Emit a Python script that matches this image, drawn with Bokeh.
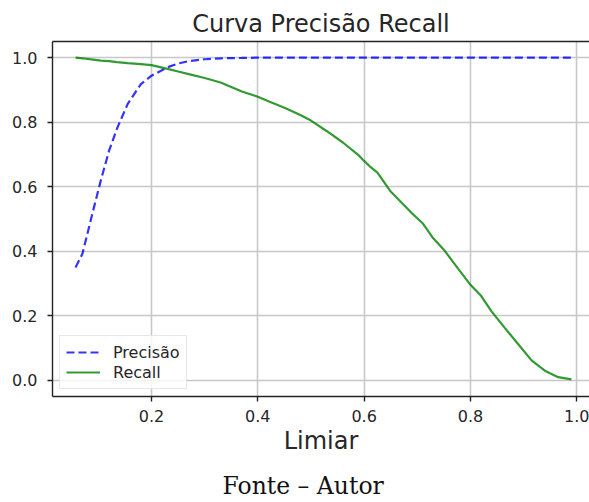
from bokeh.plotting import figure
from bokeh.models import Range1d, LinearAxis, Title, Legend, LegendItem, FixedTicker, NumeralTickFormatter
from bokeh.embed import file_html
from bokeh.resources import INLINE

# Data
threshold = [0.057, 0.07, 0.09, 0.105, 0.12, 0.135, 0.155, 0.18, 0.20, 0.23,
             0.25, 0.27, 0.30, 0.33, 0.37, 0.40, 0.42, 0.45, 0.48, 0.50,
             0.53, 0.56, 0.59, 0.60, 0.61, 0.625, 0.65, 0.69, 0.71, 0.73,
             0.75, 0.775, 0.80, 0.82, 0.84, 0.865, 0.89, 0.915, 0.94, 0.965, 0.99]
precision = [0.350, 0.392, 0.525, 0.622, 0.711, 0.780, 0.856, 0.918, 0.944, 0.970,
             0.982, 0.989, 0.995, 0.998, 0.999, 1.0, 1.0, 1.0, 1.0, 1.0,
             1.0, 1.0, 1.0, 1.0, 1.0, 1.0, 1.0, 1.0, 1.0, 1.0,
             1.0, 1.0, 1.0, 1.0, 1.0, 1.0, 1.0, 1.0, 1.0, 1.0, 1.0]
recall = [1.0, 0.998, 0.994, 0.991, 0.989, 0.986, 0.983, 0.980, 0.977, 0.965,
          0.957, 0.949, 0.937, 0.923, 0.895, 0.879, 0.865, 0.845, 0.822, 0.805,
          0.772, 0.737, 0.697, 0.680, 0.664, 0.644, 0.585, 0.518, 0.487, 0.440,
          0.405, 0.350, 0.296, 0.262, 0.213, 0.162, 0.112, 0.062, 0.030, 0.010, 0.003]
x_ticks = [0.2, 0.4, 0.6, 0.8, 1.0]
y_ticks = [0.0, 0.2, 0.4, 0.6, 0.8, 1.0]

FONT = "DejaVu Sans"
TXT = "#262626"

p = figure(width=589, height=511, output_backend="svg", toolbar_location=None,
           x_range=Range1d(0.0137, 1.024), y_range=Range1d(-0.05, 1.05),
           min_border_left=52, min_border_right=0, min_border_top=41,
           min_border_bottom=0)
p.background_fill_color = "white"
p.border_fill_color = "white"
p.outline_line_color = None

# title
p.title.text = "Curva Precisão Recall"
p.title.text_font = FONT
p.title.text_font_size = "24px"
p.title.text_font_style = "normal"
p.title.text_color = TXT
p.title.align = "center"
p.title.offset = 3
p.title.standoff = 7

# axes
for ax in (p.xaxis[0], p.yaxis[0]):
    ax.major_label_text_font = FONT
    ax.major_label_text_font_size = "16px"
    ax.major_label_text_color = TXT
    ax.axis_line_color = "#222222"
    ax.axis_line_width = 1.4
    ax.major_tick_line_color = "#222222"
    ax.major_tick_line_width = 1.4
    ax.major_tick_out = 5
    ax.major_tick_in = 0
    ax.minor_tick_out = 0
    ax.minor_tick_in = 0
    ax.formatter = NumeralTickFormatter(format="0.0")
p.xaxis[0].ticker = FixedTicker(ticks=x_ticks)
p.yaxis[0].ticker = FixedTicker(ticks=y_ticks)
p.xaxis[0].major_label_standoff = 8
p.yaxis[0].major_label_standoff = 10
p.xaxis[0].axis_label = "Limiar"
p.xaxis[0].axis_label_text_font = FONT
p.xaxis[0].axis_label_text_font_size = "24px"
p.xaxis[0].axis_label_text_font_style = "normal"
p.xaxis[0].axis_label_text_color = TXT
p.xaxis[0].axis_label_standoff = 2

# top spine
top = LinearAxis(ticker=FixedTicker(ticks=[]), major_label_text_font_size="0px",
                 major_tick_out=0, major_tick_in=0, minor_tick_out=0, minor_tick_in=0,
                 major_label_standoff=0, axis_line_color="#222222", axis_line_width=1.4)
p.add_layout(top, "above")

# grid
for g in (p.xgrid[0], p.ygrid[0]):
    g.grid_line_color = "#c8c8c8"
    g.grid_line_width = 1.6
p.xgrid[0].ticker = FixedTicker(ticks=x_ticks)
p.ygrid[0].ticker = FixedTicker(ticks=y_ticks)

# lines
r1 = p.line(threshold, precision, line_color="#0000ff", line_alpha=0.8,
            line_width=2.2, line_dash="8 4")
r2 = p.line(threshold, recall, line_color="#008000", line_alpha=0.8,
            line_width=2.2)

legend = Legend(items=[LegendItem(label="Precisão", renderers=[r1]),
                       LegendItem(label="Recall", renderers=[r2])],
                location="bottom_left")
legend.label_text_font = FONT
legend.label_text_font_size = "16px"
legend.label_text_color = TXT
legend.glyph_width = 34
legend.glyph_height = 20
legend.label_height = 20
legend.label_standoff = 13
legend.padding = 6
legend.spacing = 0
legend.margin = 7
legend.border_line_color = "#d0d0d0"
legend.border_line_width = 1.2
legend.background_fill_alpha = 0.8
p.add_layout(legend)

# footer
foot = Title(text="Fonte – Autor", text_font="DejaVu Serif", text_font_size="23.5px",
             text_font_style="normal", text_color="#111111", align="left",
             offset=170, standoff=24, text_line_height=1.0)
p.add_layout(foot, "below")

open("out.html", "w").write(file_html(p, INLINE))
